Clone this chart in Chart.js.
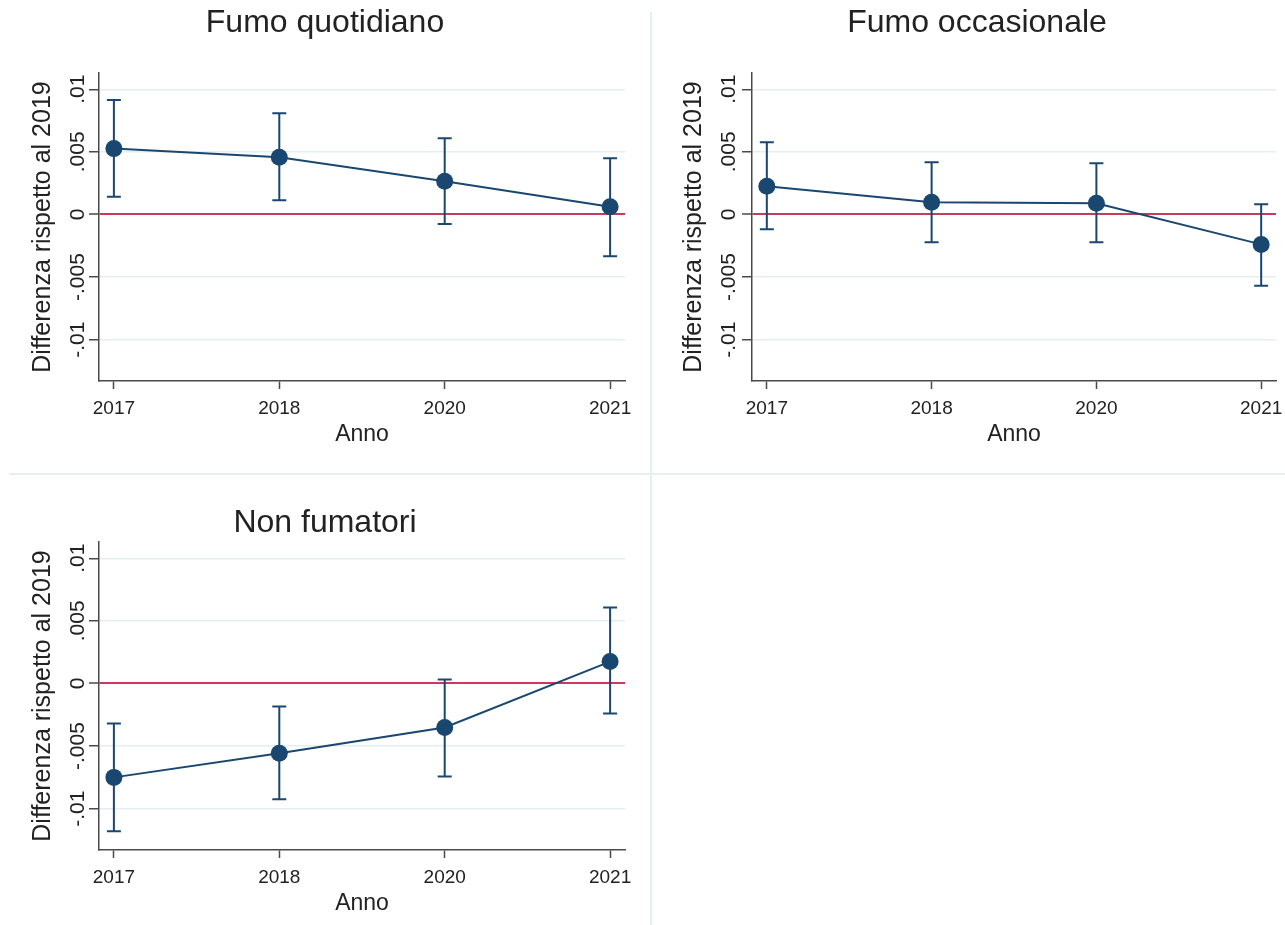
<!DOCTYPE html>
<html lang="it">
<head>
<meta charset="utf-8">
<title>Differenza rispetto al 2019</title>
<script src="https://cdn.jsdelivr.net/npm/chart.js@4.4.1/dist/chart.umd.min.js"></script>
<style>
  html, body { margin: 0; padding: 0; background: #ffffff; overflow: hidden; }
  body { width: 1285px; height: 925px; position: relative; }
  canvas { position: absolute; }
  .sep { position: absolute; background: #e6eff0; }
</style>
</head>
<body>
<div class="sep" style="left:650px; top:12px; width:2px; height:913px;"></div>
<div class="sep" style="left:9px; top:473px; width:1276px; height:2px;"></div>
<canvas id="p1" width="650" height="470" style="left:0px; top:0px;"></canvas>
<canvas id="p2" width="654" height="470" style="left:650px; top:0px;"></canvas>
<canvas id="p3" width="650" height="470" style="left:0px; top:469px;"></canvas>
<script>
// Survey years (x axis categories, drawn at equal spacing)
const years = ['2017', '2018', '2020', '2021'];

// Y axis ticks
const yTickValues = [-0.01, -0.005, 0, 0.005, 0.01];
const yTickLabels = ['-.01', '-.005', '0', '.005', '.01'];

// Fumo quotidiano: point estimate and 95% CI
const dailyEst   = [0.00526, 0.00457, 0.00266, 0.00062];
const dailyLow   = [0.00142, 0.00114, -0.00077, -0.00333];
const dailyHigh  = [0.00914, 0.00808, 0.00608, 0.00449];

// Fumo occasionale
const occasEst   = [0.00226, 0.00098, 0.00090, -0.00239];
const occasLow   = [-0.00117, -0.00221, -0.00221, -0.00569];
const occasHigh  = [0.00577, 0.00417, 0.00409, 0.00082];

// Non fumatori
const nonEst     = [-0.00750, -0.00558, -0.00351, 0.00175];
const nonLow     = [-0.01180, -0.00925, -0.00742, -0.00239];
const nonHigh    = [-0.00319, -0.00183, 0.00032, 0.00606];

const NAVY = '#1a476f';
const RED = '#c93a5c';
const GRID = '#e4eef0';
const AXIS = '#4a4a4a';
const TEXT = '#222222';
const FONT = "'Liberation Sans', Arial, sans-serif";

// Capped vertical bars for the confidence intervals, placed with the chart scales
const ciBars = {
  id: 'ciBars',
  beforeDatasetsDraw(chart, args, opts) {
    const { ctx, scales: { x, y } } = chart;
    ctx.save();
    ctx.strokeStyle = NAVY;
    ctx.lineWidth = 2;
    const half = 7;
    opts.low.forEach((lo, i) => {
      const px = x.getPixelForValue(i);
      const pLo = y.getPixelForValue(lo);
      const pHi = y.getPixelForValue(opts.high[i]);
      ctx.beginPath();
      ctx.moveTo(px, pLo); ctx.lineTo(px, pHi);
      ctx.moveTo(px - half, pLo); ctx.lineTo(px + half, pLo);
      ctx.moveTo(px - half, pHi); ctx.lineTo(px + half, pHi);
      ctx.stroke();
    });
    ctx.restore();
  }
};

function makePanel(id, title, est, low, high, geo) {
  return new Chart(document.getElementById(id), {
    type: 'line',
    data: {
      datasets: [{
        data: est.map((v, i) => ({ x: i, y: v })),
        borderColor: NAVY,
        backgroundColor: NAVY,
        borderWidth: 2,
        pointRadius: 8.5,
        pointBackgroundColor: NAVY,
        pointBorderWidth: 0,
        tension: 0,
        clip: false
      }]
    },
    plugins: [ciBars],
    options: {
      responsive: false,
      animation: false,
      devicePixelRatio: 1,
      events: [],
      layout: { padding: { left: geo.pad, right: geo.pad, top: 0, bottom: 0 } },
      plugins: {
        legend: { display: false },
        tooltip: { enabled: false },
        title: {
          display: true,
          text: title,
          color: TEXT,
          font: { family: FONT, size: 32, weight: 'normal', lineHeight: 1.2 },
          padding: { top: geo.titleTop, bottom: 73 - 38.4 - geo.titleTop }
        },
        ciBars: { low: low, high: high }
      },
      scales: {
        x: {
          type: 'linear',
          min: -0.09,
          max: 3.09,
          bounds: 'data',
          afterBuildTicks: s => { s.ticks = years.map((_, i) => ({ value: i })); },
          afterFit: s => { s.height = 89; s.paddingLeft = 0; s.paddingRight = 0; },
          ticks: {
            autoSkip: false,
            maxRotation: 0,
            minRotation: 0,
            padding: 9,
            color: TEXT,
            font: { family: FONT, size: 19, lineHeight: 1.1 },
            callback: v => years[v]
          },
          grid: { drawOnChartArea: false, drawTicks: true, tickLength: 8, tickColor: AXIS, tickWidth: 1.5 },
          border: { display: true, color: AXIS, width: 1.5 },
          title: {
            display: true,
            text: 'Anno',
            color: TEXT,
            font: { family: FONT, size: 23, lineHeight: 1.2 },
            padding: { top: 0, bottom: 22 }
          }
        },
        y: {
          type: 'linear',
          min: -0.0133,
          max: 0.0113,
          bounds: 'data',
          afterBuildTicks: s => { s.ticks = yTickValues.map(v => ({ value: v })); },
          afterFit: s => { s.width = geo.yWidth; s.paddingTop = 0; s.paddingBottom = 0; },
          ticks: {
            minRotation: 90,
            maxRotation: 90,
            crossAlign: 'center',
            padding: geo.yTickPad,
            color: TEXT,
            font: { family: FONT, size: 21, lineHeight: 1.1 },
            callback: v => yTickLabels[yTickValues.indexOf(v)]
          },
          grid: {
            color: c => (c.tick && c.tick.value === 0) ? RED : GRID,
            lineWidth: c => (c.tick && c.tick.value === 0) ? 2 : 1.5,
            tickColor: AXIS,
            tickWidth: 1.5,
            tickLength: 10,
            drawTicks: true
          },
          border: { display: true, color: AXIS, width: 1.5 },
          title: {
            display: true,
            text: 'Differenza rispetto al 2019',
            color: TEXT,
            font: { family: FONT, size: 25, lineHeight: 1.2 },
            padding: { top: geo.yTitlePad, bottom: 0 }
          }
        }
      }
    }
  });
}

makePanel('p1', 'Fumo quotidiano', dailyEst, dailyLow, dailyHigh,
  { pad: 25, yWidth: 74, yTickPad: -13, yTitlePad: 3, titleTop: 4 });
makePanel('p2', 'Fumo occasionale', occasEst, occasLow, occasHigh,
  { pad: 28, yWidth: 74, yTickPad: -11, yTitlePad: 1, titleTop: 4 });
makePanel('p3', 'Non fumatori', nonEst, nonLow, nonHigh,
  { pad: 25, yWidth: 74, yTickPad: -13, yTitlePad: 3, titleTop: 35 });
</script>
</body>
</html>
